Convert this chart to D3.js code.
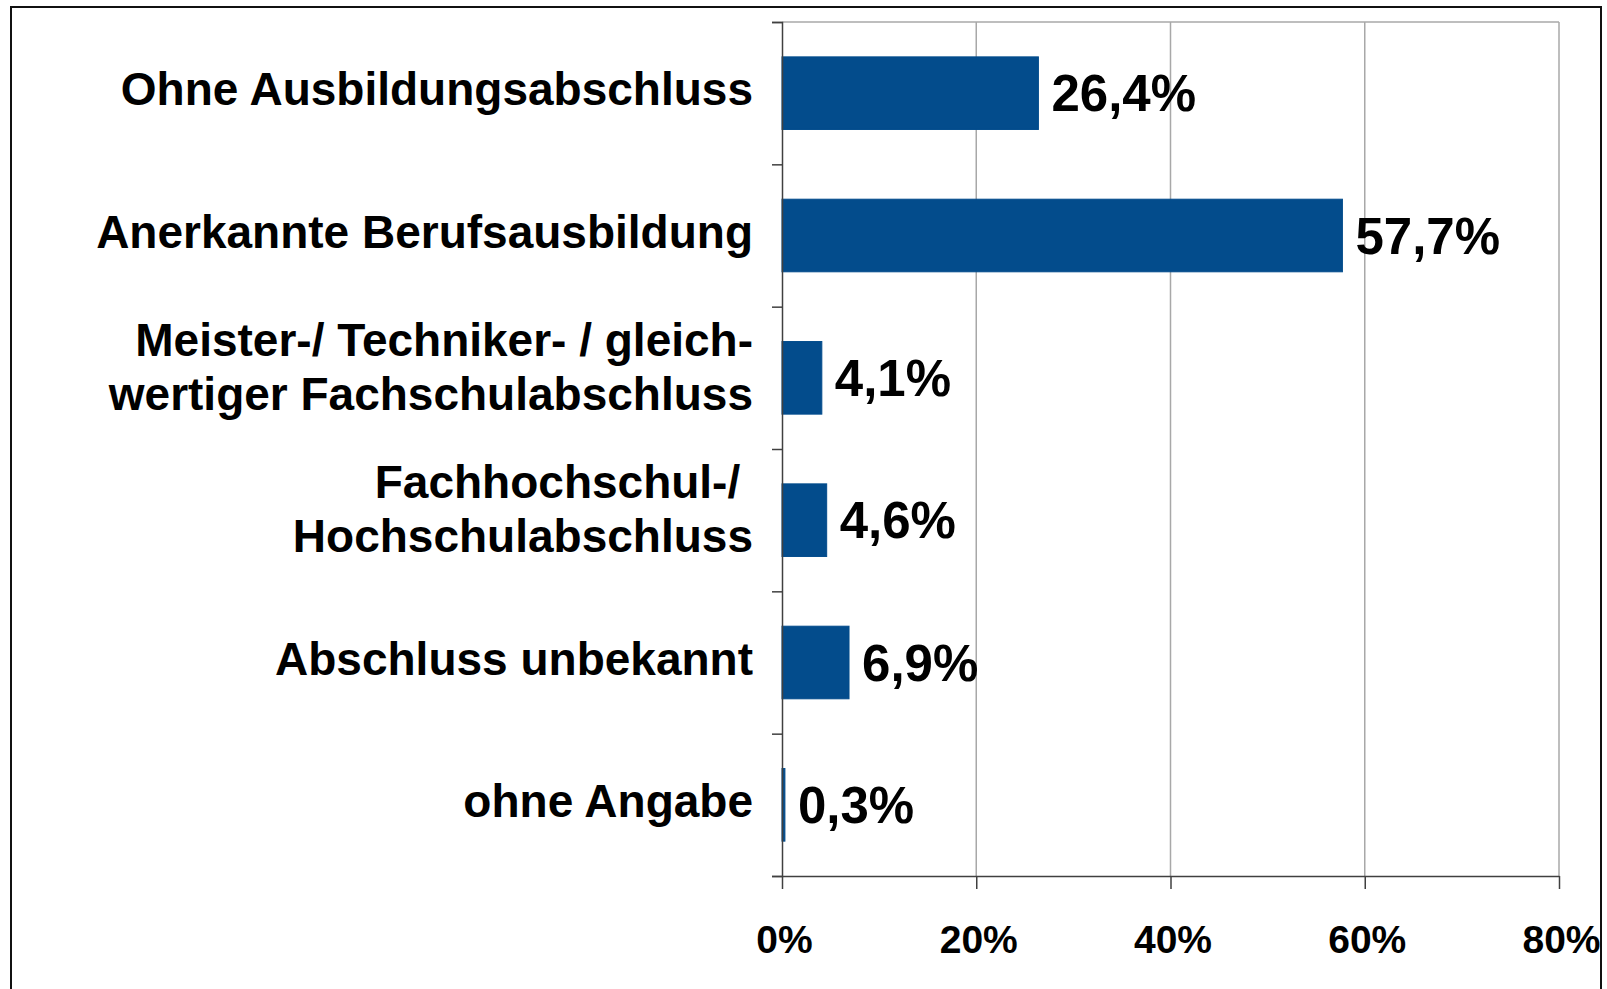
<!DOCTYPE html>
<html>
<head>
<meta charset="utf-8">
<script src="https://cdn.jsdelivr.net/npm/d3@7/dist/d3.min.js"></script>
<style>
    body { margin: 0; background: #fff; }
    svg text { font-family: "Liberation Sans", Arial, sans-serif; font-weight: bold; fill: #000; white-space: pre; }
</style>
</head>
<body>
<div id="chart"></div>
<script>
// categories (line breaks as in the original labels)
let categories = [
    "Ohne Ausbildungsabschluss",
    "Anerkannte Berufsausbildung",
    "Meister-/ Techniker- / gleich-\nwertiger Fachschulabschluss",
    "Fachhochschul-/ \nHochschulabschluss",
    "Abschluss unbekannt",
    "ohne Angabe"
];
// share in percent
let shares = [26.4, 57.7, 4.1, 4.6, 6.9, 0.3];
// x axis ticks in percent
let xTicks = [0, 20, 40, 60, 80];

let data = categories.map((c, i) => ({label: c, value: shares[i]}));

let W = 1607, H = 989;
let margin = {top: 22, left: 782};
let width = 777, height = 854;

let svg = d3.select("#chart").append("svg")
    .attr("width", W)
    .attr("height", H);

// outer frame
svg.append("rect")
    .attr("x", 11).attr("y", 7)
    .attr("width", 1590).attr("height", 1000)
    .attr("fill", "none")
    .attr("stroke", "#111")
    .attr("stroke-width", 2);

let g = svg.append("g")
    .attr("transform", "translate(" + margin.left + "," + margin.top + ")");

// scales
let x = d3.scaleLinear()
    .domain([0, d3.max(xTicks)])
    .range([0, width]);

let y = d3.scaleBand()
    .domain(categories)
    .range([0, height])
    .paddingInner(0.49)
    .paddingOuter(0.245);

// band edges for the y ticks
let yEdge = d3.scaleLinear()
    .domain([0, categories.length])
    .range([0, height]);

// gridlines + top border of plot area
g.selectAll(".grid")
    .data(xTicks.filter(d => d > 0))
    .enter().append("line")
    .attr("class", "grid")
    .attr("x1", d => x(d)).attr("x2", d => x(d))
    .attr("y1", 0).attr("y2", height)
    .attr("stroke", "#a8a8a8")
    .attr("stroke-width", 1.5);

g.append("line")
    .attr("x1", 0).attr("x2", width)
    .attr("y1", 0).attr("y2", 0)
    .attr("stroke", "#a8a8a8")
    .attr("stroke-width", 1.5);

// bars
g.selectAll(".bar")
    .data(data)
    .enter().append("rect")
    .attr("class", "bar")
    .attr("x", x(0))
    .attr("y", d => y(d.label))
    .attr("width", d => x(d.value) - x(0))
    .attr("height", y.bandwidth())
    .attr("fill", "#034c8c")
    .attr("stroke", "#034c8c")
    .attr("stroke-width", 1);

// value labels, german decimal comma
let de = d3.formatLocale({decimal: ",", thousands: ".", grouping: [3], currency: ["", " €"]});
let fmt = de.format(".1f");

g.selectAll(".val")
    .data(data)
    .enter().append("text")
    .attr("class", "val")
    .attr("x", d => x(d.value) + 13)
    .attr("y", d => y(d.label) + y.bandwidth() / 2 + 18)
    .style("font-size", "51px")
    .text(d => fmt(d.value) + "%");

// y axis: line with ticks on band edges
let yAxis = d3.axisLeft(yEdge)
    .ticks(categories.length)
    .tickSize(10)
    .tickSizeOuter(10)
    .tickFormat("");

g.append("g")
    .attr("class", "y-axis")
    .call(yAxis);

// x axis
let xAxis = d3.axisBottom(x)
    .tickValues(xTicks)
    .tickSize(13)
    .tickSizeOuter(0)
    .tickFormat(d => d + "%");

let xg = g.append("g")
    .attr("class", "x-axis")
    .attr("transform", "translate(0," + height + ")")
    .call(xAxis);

xg.selectAll("text")
    .attr("y", 77)
    .attr("dy", 0)
    .attr("x", 2)
    .style("font-size", "39px");

g.selectAll(".y-axis path, .y-axis line, .x-axis path, .x-axis line")
    .attr("stroke", "#404040")
    .attr("stroke-width", 1.5);

// category labels
let lineH = 54;
let cat = g.selectAll(".cat")
    .data(data)
    .enter().append("text")
    .attr("class", "cat")
    .attr("text-anchor", "end")
    .style("font-size", "46px");

cat.each(function(d) {
    let lines = d.label.split("\n");
    let n = lines.length;
    let cy = y(d.label) + y.bandwidth() / 2 + (n > 1 ? 5 : 12);
    d3.select(this).selectAll("tspan")
        .data(lines)
        .enter().append("tspan")
        .attr("x", -29)
        .attr("y", (l, i) => cy + (i - (n - 1) / 2) * lineH)
        .text(l => l);
});
</script>
</body>
</html>
